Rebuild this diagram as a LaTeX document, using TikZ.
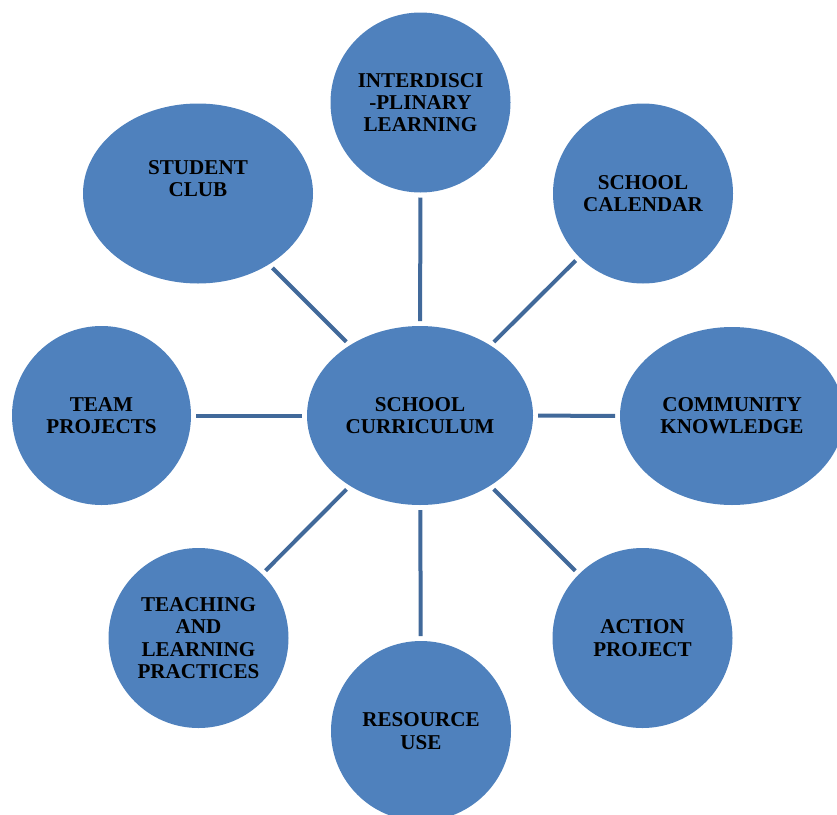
\documentclass[tikz,border=0pt]{standalone}
\usepackage{fontspec}
\setmainfont{Liberation Serif}
\usetikzlibrary{shapes.geometric}
\definecolor{bubfill}{HTML}{4F81BD}
\definecolor{linkcol}{HTML}{41699A}
\tikzset{
  txt/.style={font=\bfseries\fontsize{21.1}{22.3}\selectfont, align=center, text=black},
  bub/.style={circle, fill=bubfill, draw=none, inner sep=0pt, outer sep=0pt, minimum size=180pt, txt},
  bubell/.style={ellipse, fill=bubfill, draw=none, inner sep=0pt, outer sep=0pt, txt},
  link/.style={draw=linkcol, line width=4pt, line cap=butt, shorten <=5pt, shorten >=5pt}
}
\begin{document}
\begin{tikzpicture}[x=1pt,y=-1pt]
\useasboundingbox (0,0) rectangle (837,814);
\clip (0,0) rectangle (837,814);
\node[bubell, minimum width=226pt, minimum height=179pt] (c) at (420,415.5) {SCHOOL\\CURRICULUM};
\node[bub] (inter) at (420.5,102.5) {INTERDISCI\\-PLINARY\\LEARNING};
\node[bubell, minimum width=230pt, minimum height=180pt,
  label={[txt, yshift=15pt]center:{STUDENT\\CLUB}}] (club) at (198,193.5) {};
\node[bub] (cal) at (643,193.5) {SCHOOL\\CALENDAR};
\node[bubell, minimum width=224pt, minimum height=178pt] (comm) at (732,416) {COMMUNITY\\KNOWLEDGE};
\node[bub, minimum size=179pt] (team) at (101.5,415.5) {TEAM\\PROJECTS};
\node[bub] (teach) at (198.5,638) {TEACHING\\AND\\LEARNING\\PRACTICES};
\node[bub] (res) at (421,731) {RESOURCE\\USE};
\node[bub] (act) at (642.5,638) {ACTION\\PROJECT};
\draw[link] (c) -- (inter);
\draw[link] (c) -- (club);
\draw[link] (c) -- (cal);
\draw[link] (c) -- (comm);
\draw[link] (c) -- (team);
\draw[link] (c) -- (teach);
\draw[link] (c) -- (res);
\draw[link] (c) -- (act);
\end{tikzpicture}
\end{document}
